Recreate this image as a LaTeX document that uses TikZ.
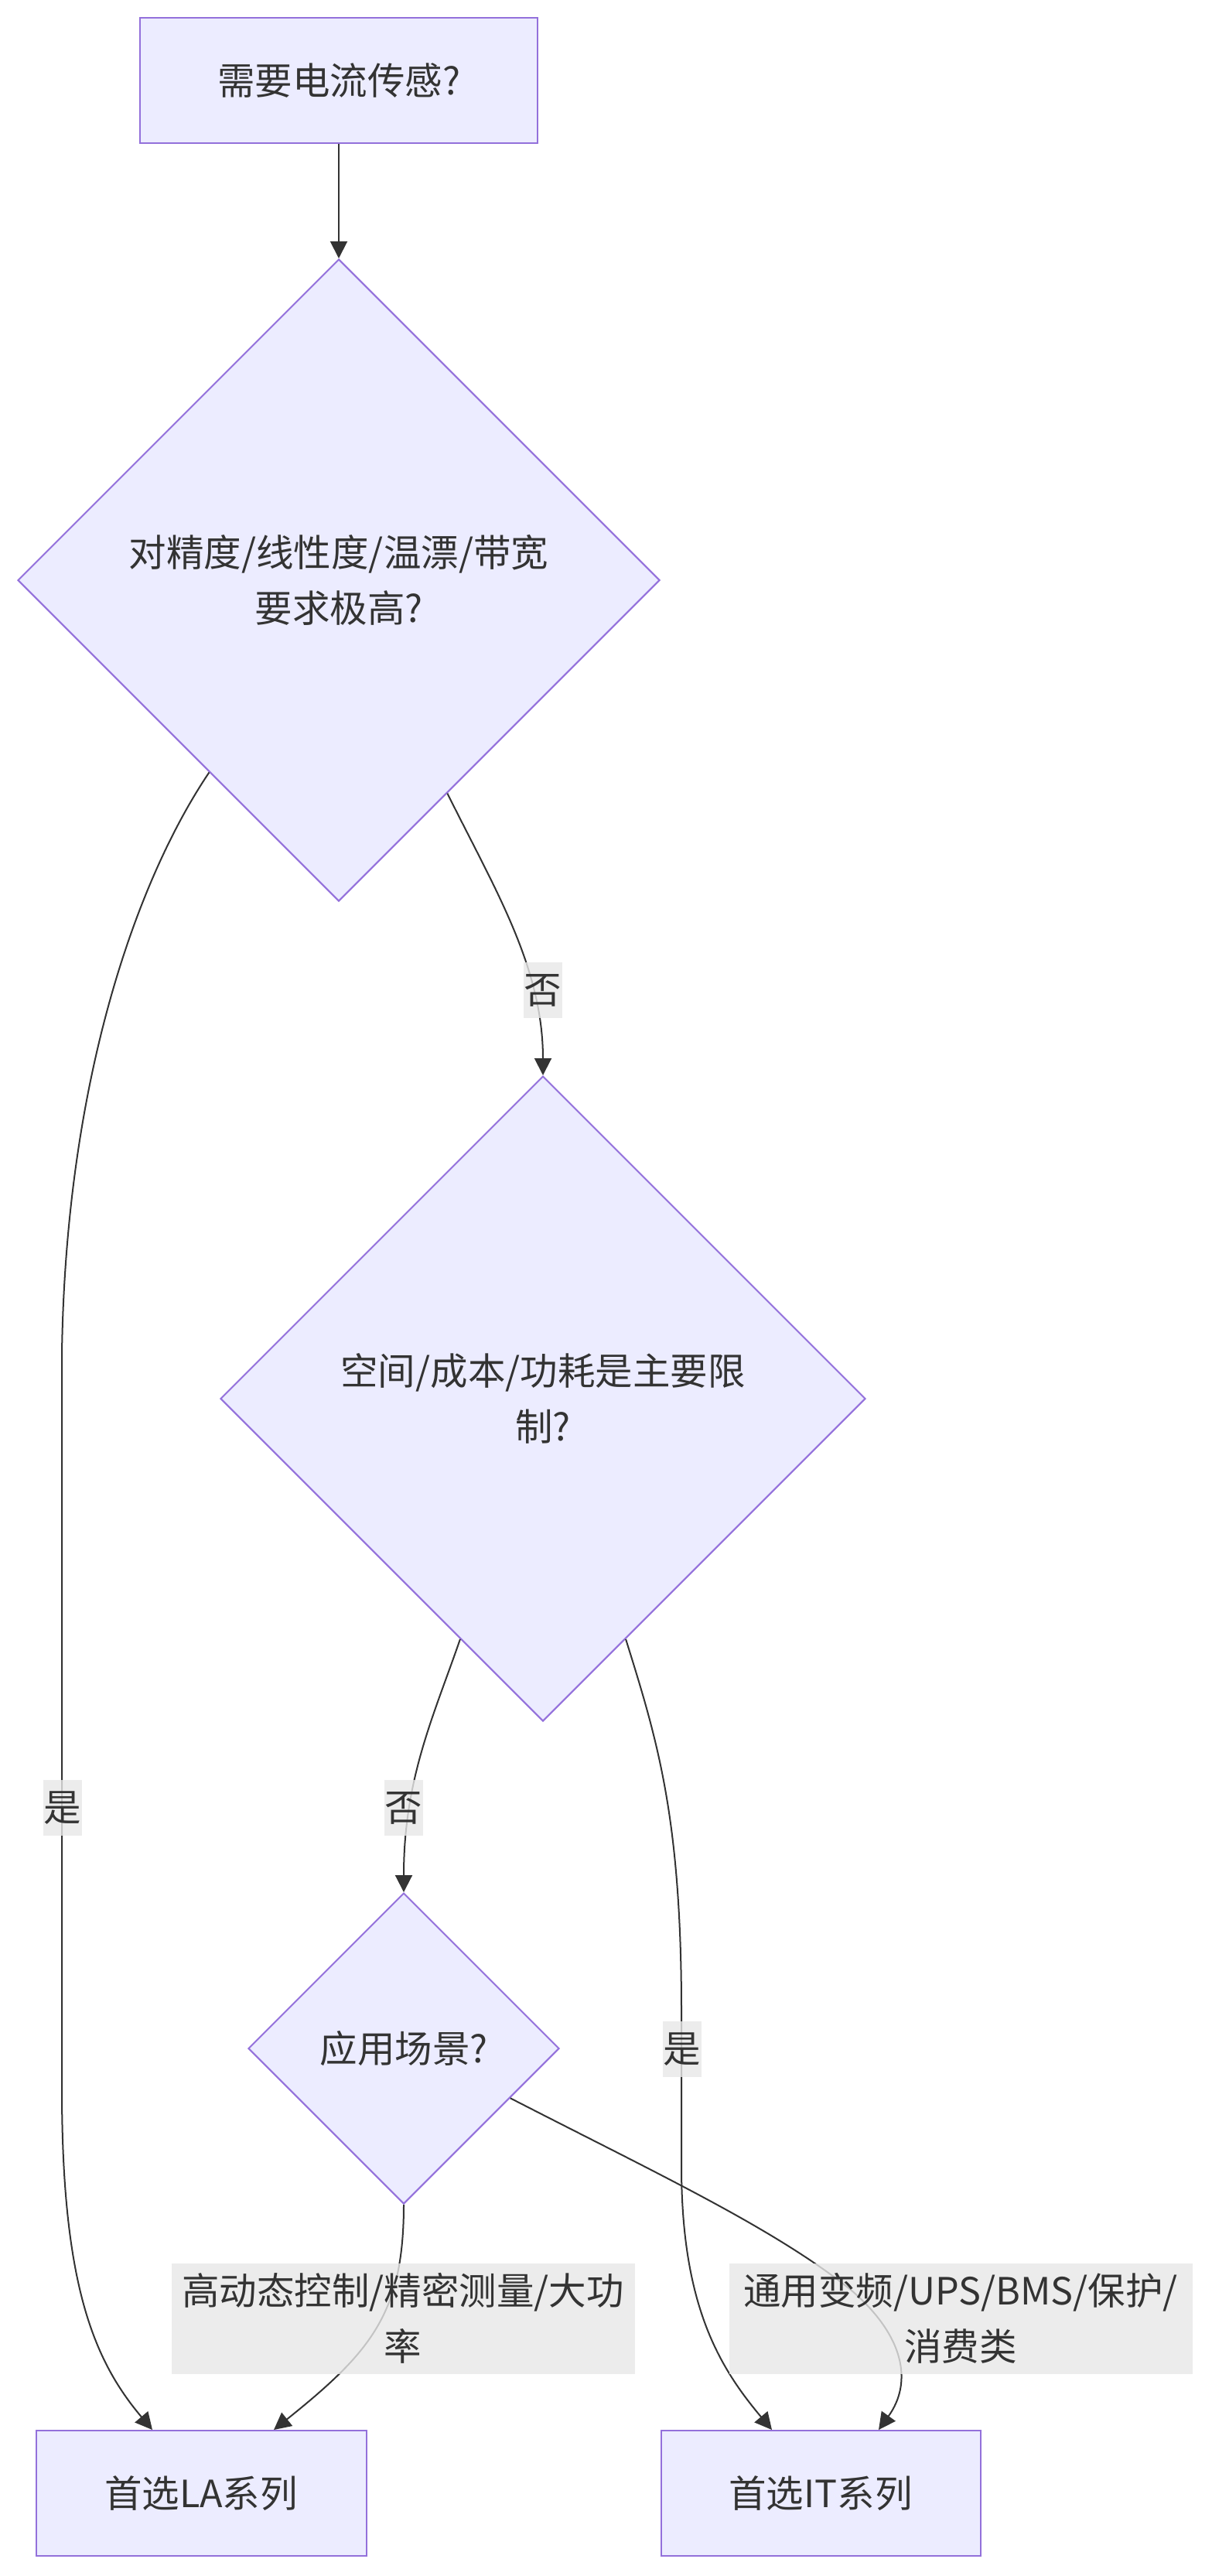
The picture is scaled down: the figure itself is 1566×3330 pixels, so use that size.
\documentclass[tikz,border=0pt]{standalone}
\usepackage{fontspec}
\setmainfont{Noto Sans CJK SC}
\usetikzlibrary{shapes.geometric,arrows.meta}
\definecolor{nodefill}{HTML}{ECECFF}
\definecolor{nodestroke}{HTML}{9370DB}
\definecolor{edgecol}{HTML}{333333}
\definecolor{labelbg}{HTML}{E8E8E8}
\begin{document}
\begin{tikzpicture}[x=1pt,y=-1pt,
 every node/.style={font=\fontsize{48.5}{72}\selectfont, text=edgecol},
 procbox/.style={draw=nodestroke, fill=nodefill, line width=2pt, minimum height=162pt, inner sep=0pt, align=center},
 decision/.style={diamond, aspect=1, draw=nodestroke, fill=nodefill, line width=2pt, inner sep=0pt, align=center},
 edgelabel/.style={fill=labelbg, fill opacity=0.8, text opacity=1, inner xsep=1pt, inner ysep=0pt, minimum height=72pt, align=center},
 flow/.style={draw=edgecol, line width=2pt, -{Triangle[length=22pt,width=22pt]}}
]
\fill[white] (0,0) rectangle (1566,3330);
\useasboundingbox (0,0) rectangle (1566,3330);

\node[procbox, minimum width=514pt] (start) at (438,104) {需要电流传感?};
\node[decision, minimum width=830pt, minimum height=830pt] (d1) at (438,750) {对精度/线性度/温漂/带宽\\要求极高?};
\node[decision, minimum width=834pt, minimum height=834pt] (d2) at (702,1808) {空间/成本/功耗是主要限\\制?};
\node[decision, minimum width=402pt, minimum height=402pt] (d3) at (522,2648) {应用场景?};
\node[procbox, minimum width=427pt] (la) at (260,3223) {首选LA系列};
\node[procbox, minimum width=413pt] (it) at (1061,3223) {首选IT系列};

\draw[flow] (start.south) -- (d1.north);
\draw[flow] (d1.236) .. controls (175,1140) and (85,1400) .. (80,1750) -- (80,2700) .. controls (80,2950) and (120,3050) .. ([xshift=-63pt]la.north);
\draw[flow] (d1.297) .. controls (640,1150) and (702,1250) .. (d2.north);
\draw[flow] (d2.251) .. controls (560,2220) and (522,2300) .. (d3.north);
\draw[flow] (d2.289) .. controls (850,2250) and (881,2350) .. (881,2600) -- (881,2800) .. controls (881,2980) and (930,3060) .. ([xshift=-63pt]it.north);
\draw[flow] (d3.south) .. controls (522,2990) and (480,3040) .. ([xshift=94pt]la.north);
\draw[flow] (d3.335) .. controls (850,2810) and (1000,2880) .. (1100,2960) .. controls (1170,3020) and (1180,3080) .. ([xshift=75pt]it.north);

\node[edgelabel] (l1) at (702,1280) {否};
\node[edgelabel] (l2) at (81,2337) {是};
\node[edgelabel] (l3) at (522,2337) {否};
\node[edgelabel] (l4) at (882,2649) {是};
\node[edgelabel, minimum width=599pt, minimum height=143pt] (l5) at (521,2997) {高动态控制/精密测量/大功\\率};
\node[edgelabel, minimum width=599pt, minimum height=143pt] (l6) at (1242,2997) {通用变频/UPS/BMS/保护/\\消费类};
\end{tikzpicture}
\end{document}
